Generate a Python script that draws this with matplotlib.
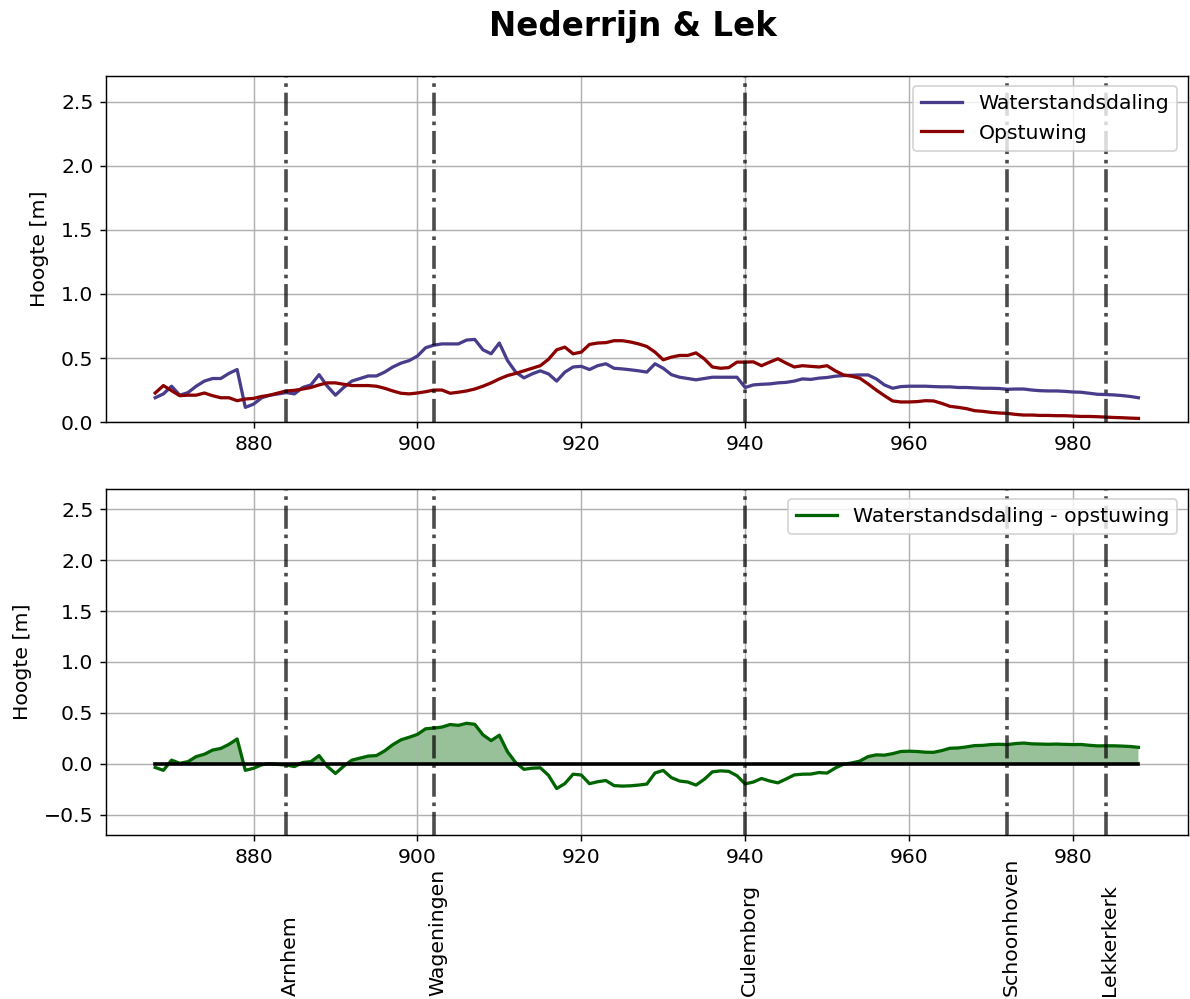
import numpy as np
import matplotlib
matplotlib.use('Agg')
import matplotlib.pyplot as plt
import matplotlib.transforms as mtransforms

# rivierkilometers
km = np.arange(868, 989)

# Waterstandsdaling [m]
daling = [0.19, 0.22, 0.28, 0.21, 0.23, 0.28, 0.32, 0.34, 0.34, 0.38,
          0.41, 0.115, 0.14, 0.19, 0.21, 0.22, 0.23, 0.22, 0.27, 0.29,
          0.37, 0.28, 0.21, 0.27, 0.32, 0.34, 0.36, 0.36, 0.39, 0.43,
          0.46, 0.48, 0.515, 0.58, 0.60, 0.61, 0.61, 0.61, 0.64, 0.645,
          0.564, 0.533, 0.617, 0.48, 0.39, 0.345, 0.376, 0.40, 0.376, 0.32,
          0.39, 0.43, 0.435, 0.41, 0.44, 0.455, 0.42, 0.415, 0.408, 0.40,
          0.39, 0.455, 0.42, 0.37, 0.35, 0.34, 0.33, 0.34, 0.35, 0.35,
          0.35, 0.35, 0.27, 0.29, 0.295, 0.298, 0.306, 0.31, 0.32, 0.337,
          0.333, 0.343, 0.348, 0.358, 0.363, 0.365, 0.368, 0.368, 0.337, 0.29,
          0.264, 0.277, 0.28, 0.28, 0.28, 0.277, 0.275, 0.275, 0.27, 0.27,
          0.267, 0.264, 0.264, 0.262, 0.256, 0.258, 0.258, 0.25, 0.245, 0.243,
          0.243, 0.24, 0.235, 0.233, 0.225, 0.217, 0.215, 0.212, 0.207, 0.20,
          0.19]

# Opstuwing [m]
opstuwing = [0.227, 0.285, 0.245, 0.206, 0.21, 0.21, 0.227, 0.206, 0.19, 0.19,
             0.167, 0.18, 0.185, 0.20, 0.21, 0.227, 0.243, 0.248, 0.258, 0.27,
             0.29, 0.306, 0.306, 0.295, 0.285, 0.285, 0.285, 0.28, 0.264, 0.243,
             0.225, 0.22, 0.227, 0.237, 0.25, 0.25, 0.225, 0.233, 0.243, 0.258,
             0.28, 0.306, 0.337, 0.363, 0.38, 0.40, 0.42, 0.44, 0.49, 0.564,
             0.585, 0.533, 0.546, 0.606, 0.617, 0.62, 0.635, 0.635, 0.625, 0.61,
             0.59, 0.546, 0.486, 0.507, 0.52, 0.52, 0.54, 0.494, 0.43, 0.42,
             0.425, 0.468, 0.468, 0.47, 0.44, 0.468, 0.494, 0.46, 0.43, 0.44,
             0.435, 0.43, 0.44, 0.40, 0.368, 0.358, 0.342, 0.298, 0.25, 0.206,
             0.165, 0.157, 0.157, 0.16, 0.167, 0.165, 0.146, 0.123, 0.115, 0.105,
             0.089, 0.084, 0.076, 0.071, 0.068, 0.06, 0.055, 0.055, 0.052, 0.052,
             0.05, 0.05, 0.047, 0.044, 0.044, 0.042, 0.039, 0.036, 0.034, 0.031,
             0.029]

steden = ['Arnhem', 'Wageningen', 'Culemborg', 'Schoonhoven', 'Lekkerkerk']
steden_km = [884, 902, 940, 972, 984]

daling = np.array(daling)
opstuwing = np.array(opstuwing)
verschil = daling - opstuwing

plt.rcParams['font.size'] = 11.3

fig, (ax1, ax2) = plt.subplots(2, 1, figsize=(1190/130, 999/130), dpi=130)
fig.subplots_adjust(left=0.0891, right=0.998, top=0.9239, bottom=0.1642, hspace=0.193)

ax1.plot(km, daling, color='darkslateblue', lw=1.8, label='Waterstandsdaling')
ax1.plot(km, opstuwing, color='darkred', lw=1.8, label='Opstuwing')
ax1.set_ylim(0, 2.7)
ax1.legend(loc='upper right')

ax2.plot(km, verschil, color='darkgreen', lw=1.8, label='Waterstandsdaling - opstuwing')
ax2.fill_between(km, verschil, 0, where=verschil > 0, interpolate=True,
                 color='darkgreen', alpha=0.4, linewidth=0)
ax2.plot(km, np.zeros(len(km)), color='k', lw=2)
ax2.set_ylim(-0.7, 2.7)
ax2.legend(loc='upper right')

for ax in (ax1, ax2):
    ax.grid(True)
    ax.set_ylabel('Hoogte [m]', labelpad=6.5)
    ax.set_xticks([880, 900, 920, 940, 960, 980])
    for s in steden_km:
        ax.axvline(s, color='k', ls='-.', lw=2, alpha=0.7)

trans = mtransforms.blended_transform_factory(ax2.transData, fig.transFigure)
for naam, s in zip(steden, steden_km):
    ax2.text(s + 0.5, 0.003, naam, rotation=90, ha='center', va='bottom',
             transform=trans)

fig.suptitle('Nederrijn & Lek', fontsize=18, fontweight='bold', x=0.5315, y=0.99)

fig.savefig('out.png', dpi=130)
